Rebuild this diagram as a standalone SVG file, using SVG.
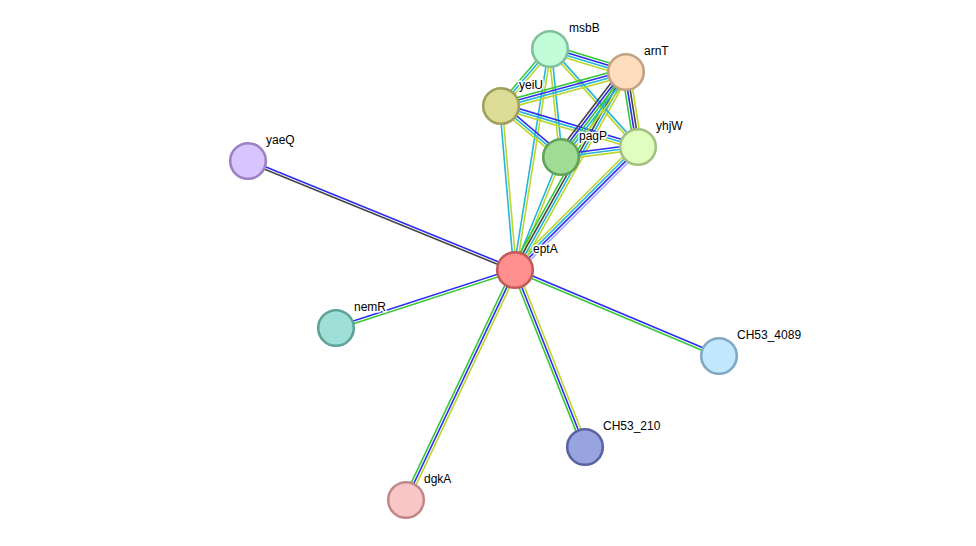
<svg xmlns="http://www.w3.org/2000/svg" width="976" height="546" viewBox="0 0 976 546">
<style>
#edges line{stroke-width:1.6;fill:none}
.g{stroke:#36c836}.b{stroke:#2b2bf5}.c{stroke:#22b6da}.y{stroke:#bcd62c}.k{stroke:#454545}.l{stroke:#a8a8ff}
.n{stroke-width:2.6}
text{font-family:"Liberation Sans",Arial,sans-serif;font-size:12px;fill:#000;stroke:#fff;stroke-width:3;paint-order:stroke;stroke-linejoin:round}
</style>
<rect width="976" height="546" fill="#fff"/>
<g id="edges">
<g transform="translate(515 270) rotate(202.21)"><line x2="288.4" y1="1.3" y2="1.3" class="b"/><line x2="288.4" y1="-1.3" y2="-1.3" class="k"/></g>
<g transform="translate(515 270) rotate(162.05)"><line x2="188.2" y1="1.3" y2="1.3" class="b"/><line x2="188.2" y1="-1.3" y2="-1.3" class="g"/></g>
<g transform="translate(515 270) rotate(22.86)"><line x2="221.4" y1="-1.3" y2="-1.3" class="b"/><line x2="221.4" y1="1.3" y2="1.3" class="g"/></g>
<g transform="translate(515 270) rotate(68.42)"><line x2="190.3" y1="-2.6" y2="-2.6" class="y"/><line x2="190.3" class="b"/><line x2="190.3" y1="2.6" y2="2.6" class="g"/></g>
<g transform="translate(515 270) rotate(115.36)"><line x2="254.5" y1="-2.6" y2="-2.6" class="y"/><line x2="254.5" class="b"/><line x2="254.5" y1="2.6" y2="2.6" class="g"/></g>
<g transform="translate(515 270) rotate(-81)"><line x2="223.8" y1="-1.3" y2="-1.3" class="c"/><line x2="223.8" y1="1.3" y2="1.3" class="y"/></g>
<g transform="translate(515 270) rotate(-94.88)"><line x2="164.6" y1="-1.3" y2="-1.3" class="c"/><line x2="164.6" y1="1.3" y2="1.3" class="y"/></g>
<g transform="translate(515 270) rotate(-67.85)"><line x2="122" y1="-1.3" y2="-1.3" class="c"/><line x2="122" y1="1.3" y2="1.3" class="y"/></g>
<g transform="translate(515 270) rotate(-45)"><line x2="174" y1="-3.9" y2="-3.9" class="y"/><line x2="174" y1="-1.3" y2="-1.3" class="c"/><line x2="174" y1="1.3" y2="1.3" class="b"/><line x2="174" y1="3.9" y2="3.9" class="l"/></g>
<g transform="translate(626 72) rotate(119.27)"><line x2="227" y1="-3.9" y2="-3.9" class="y"/><line x2="227" y1="-1.3" y2="-1.3" class="c"/><line x2="227" y1="1.3" y2="1.3" class="k"/><line x2="227" y1="3.9" y2="3.9" class="g"/></g>
<g transform="translate(550 49) rotate(16.84)"><line x2="79.4" y1="-3.9" y2="-3.9" class="g"/><line x2="79.4" y1="-1.3" y2="-1.3" class="b"/><line x2="79.4" y1="1.3" y2="1.3" class="c"/><line x2="79.4" y1="3.9" y2="3.9" class="y"/></g>
<g transform="translate(550 49) rotate(130.69)"><line x2="75.2" y1="2.6" y2="2.6" class="g"/><line x2="75.2" class="c"/><line x2="75.2" y1="-2.6" y2="-2.6" class="y"/></g>
<g transform="translate(550 49) rotate(84.18)"><line x2="108.6" y1="-1.3" y2="-1.3" class="c"/><line x2="108.6" y1="1.3" y2="1.3" class="y"/></g>
<g transform="translate(550 49) rotate(48.08)"><line x2="131.7" y1="-1.3" y2="-1.3" class="c"/><line x2="131.7" y1="1.3" y2="1.3" class="y"/></g>
<g transform="translate(501 106) rotate(-15.22)"><line x2="129.5" y1="-3.9" y2="-3.9" class="g"/><line x2="129.5" y1="-1.3" y2="-1.3" class="b"/><line x2="129.5" y1="1.3" y2="1.3" class="c"/><line x2="129.5" y1="3.9" y2="3.9" class="y"/></g>
<g transform="translate(501 106) rotate(40.36)"><line x2="78.7" y1="-2.6" y2="-2.6" class="b"/><line x2="78.7" class="c"/><line x2="78.7" y1="2.6" y2="2.6" class="y"/></g>
<g transform="translate(501 106) rotate(16.66)"><line x2="143" y1="-2.6" y2="-2.6" class="b"/><line x2="143" class="c"/><line x2="143" y1="2.6" y2="2.6" class="y"/></g>
<g transform="translate(561 157) rotate(-7.4)"><line x2="77.6" y1="-2.6" y2="-2.6" class="b"/><line x2="77.6" class="c"/><line x2="77.6" y1="2.6" y2="2.6" class="y"/></g>
<g transform="translate(626 72) rotate(127.41)"><line x2="107" y1="-5.2" y2="-5.2" class="y"/><line x2="107" y1="-2.6" y2="-2.6" class="c"/><line x2="107" class="g"/><line x2="107" y1="2.6" y2="2.6" class="b"/><line x2="107" y1="5.2" y2="5.2" class="k"/></g>
<g transform="translate(626 72) rotate(80.91)"><line x2="75.95" y1="-3.9" y2="-3.9" class="y"/><line x2="75.95" y1="-1.3" y2="-1.3" class="k"/><line x2="75.95" y1="1.3" y2="1.3" class="b"/><line x2="75.95" y1="3.9" y2="3.9" class="g"/></g>
</g>
<g id="eptA"><circle cx="515" cy="270" r="17.8" fill="#ff8f8f" stroke="#c25a5a" class="n"/><text x="533" y="253">eptA</text></g>
<g id="msbB"><circle cx="550" cy="49" r="17.8" fill="#c0fdd8" stroke="#80c09c" class="n"/><text x="569" y="32">msbB</text></g>
<g id="arnT"><circle cx="626" cy="72" r="17.8" fill="#ffdcbe" stroke="#c2a284" class="n"/><text x="644" y="55">arnT</text></g>
<g id="yeiU"><circle cx="501" cy="106" r="17.8" fill="#dcdc96" stroke="#a0a05c" class="n"/><text x="519" y="89">yeiU</text></g>
<g id="pagP"><circle cx="561" cy="157" r="17.8" fill="#a0dc94" stroke="#62a25a" class="n"/><text x="579" y="140">pagP</text></g>
<g id="yhjW"><circle cx="638" cy="147" r="17.8" fill="#e0fec0" stroke="#a2c082" class="n"/><text x="656" y="130">yhjW</text></g>
<g id="yaeQ"><circle cx="248" cy="161" r="17.8" fill="#d8c4fe" stroke="#9c82c2" class="n"/><text x="266" y="144">yaeQ</text></g>
<g id="nemR"><circle cx="336" cy="328" r="17.8" fill="#9ee0d8" stroke="#5ea298" class="n"/><text x="354" y="311">nemR</text></g>
<g id="CH53_4089"><circle cx="719" cy="356" r="17.8" fill="#c2e8fe" stroke="#82a8c2" class="n"/><text x="737" y="339">CH53_4089</text></g>
<g id="CH53_210"><circle cx="585" cy="447" r="17.8" fill="#98a4e0" stroke="#5a64a2" class="n"/><text x="603" y="430">CH53_210</text></g>
<g id="dgkA"><circle cx="406" cy="500" r="17.8" fill="#f8c6c6" stroke="#c08888" class="n"/><text x="424" y="483">dgkA</text></g>
</svg>
